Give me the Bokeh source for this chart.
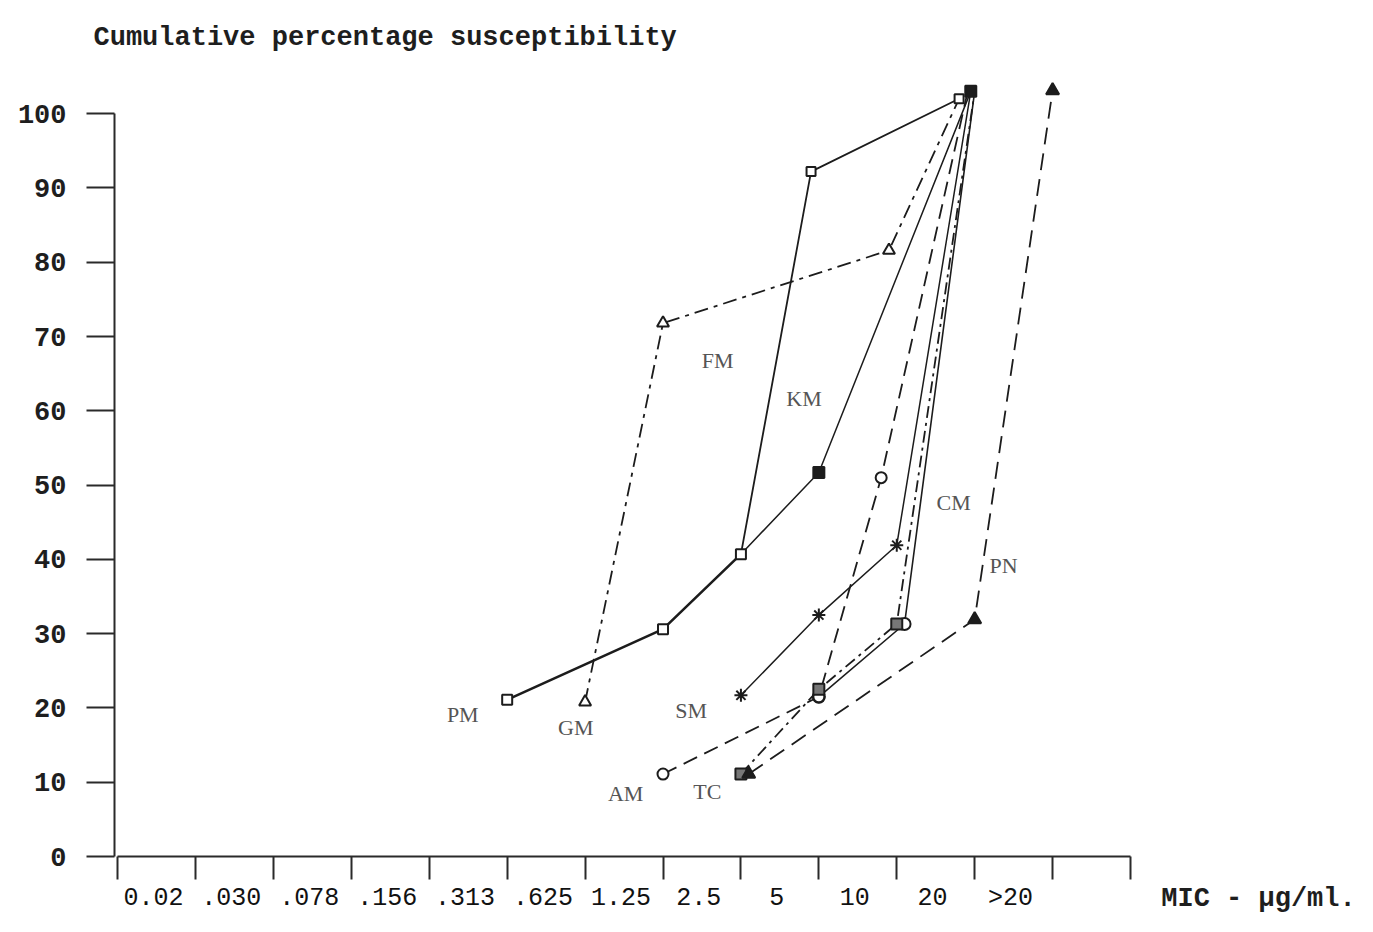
from bokeh.plotting import figure
from bokeh.layouts import row
from bokeh.models import Range1d, FixedTicker
from bokeh.core.properties import value
from bokeh.embed import file_html
from bokeh.resources import INLINE

# ---------------- data ----------------
mic_labels = ["0.02", ".030", ".078", ".156", ".313", ".625", "1.25", "2.5", "5", "10", "20", ">20"]
y_ticks = [0, 10, 20, 30, 40, 50, 60, 70, 80, 90, 100]
x_unit = "MIC - \u00b5g/ml."

# x = position on the MIC scale (tick index), y = cumulative % susceptibility
pm_x = [5, 7, 8]
pm_y = [21.1, 30.6, 40.7]
fm_x = [8, 8.9, 10.8]
fm_y = [40.7, 92.2, 102.0]
km_x = [8, 9, 10.95]
km_y = [40.7, 51.7, 103.0]
gm_x = [6, 7, 9.9, 10.8]
gm_y = [20.8, 71.8, 81.6, 102.0]
sm_x = [8, 9, 10, 10.95]
sm_y = [21.7, 32.5, 41.9, 103.0]
cm_x = [9, 10.1, 11.0]
cm_y = [21.5, 31.3, 103.0]
am_x = [7, 9, 9.8, 10.9]
am_y = [11.1, 21.5, 51.0, 102.5]
tc_x = [8, 9, 10, 11.0]
tc_y = [11.1, 22.5, 31.3, 103.0]
pn_x = [8.1, 11, 12]
pn_y = [11.1, 31.9, 103.1]

label_names = ["PM", "FM", "KM", "GM", "SM", "AM", "TC", "CM", "PN"]
label_x = [4.43, 7.70, 8.81, 5.88, 7.36, 6.52, 7.57, 10.73, 11.37]
label_y = [19.1, 66.8, 61.7, 17.4, 19.6, 8.5, 8.7, 47.7, 39.2]

# ---------------- styles ----------------
INK = "#1c1c1c"
series = [
    (pm_x, pm_y, dict(dash="solid", lw=2.6, marker="square", fill="white", size=10, first=0, end="square", end_fill="white")),
    (fm_x, fm_y, dict(dash="solid", lw=1.8, marker="square", fill="white", size=9, first=1, end="square", end_fill="white")),
    (km_x, km_y, dict(dash="solid", lw=1.5, marker="square", fill=INK, size=11, first=1, end="square", end_fill=INK)),
    (gm_x, gm_y, dict(dash="14 6 4 6", lw=1.8, marker="triangle", fill="white", size=12, first=0, end=None, end_fill=None)),
    (sm_x, sm_y, dict(dash="solid", lw=1.5, marker="asterisk", fill=INK, size=13, first=0, end=None, end_fill=None)),
    (cm_x, cm_y, dict(dash="solid", lw=1.6, marker="circle", fill="white", size=12, first=0, end=None, end_fill=None)),
    (am_x, am_y, dict(dash="15 8", lw=1.8, marker="circle", fill="white", size=11, first=0, end=None, end_fill=None)),
    (tc_x, tc_y, dict(dash="12 5 3 5", lw=1.8, marker="square", fill="#777777", size=11, first=0, end=None, end_fill=None)),
    (pn_x, pn_y, dict(dash="17 9", lw=1.8, marker="triangle", fill=INK, size=13, first=0, end="triangle", end_fill=INK)),
]

H = 916
TOP = 76
TICK_OUT = 23
STANDOFF = 4
LABEL_FONT_SIZE = "25px"

p = figure(width=1138, height=H, output_backend="svg", toolbar_location=None,
           x_range=Range1d(-0.04, 13), y_range=Range1d(0, 105),
           min_border_left=114, min_border_right=8, min_border_top=TOP, min_border_bottom=54)
p.xgrid.visible = False
p.ygrid.visible = False
p.outline_line_color = None
p.background_fill_color = "white"
p.border_fill_color = "white"

# title
p.title.text = "Cumulative percentage susceptibility"
p.title.text_font = "Liberation Mono"
p.title.text_font_style = "bold"
p.title.text_font_size = "27px"
p.title.text_color = "#1e1e1e"
p.title.align = "left"
p.title.vertical_align = "top"
p.title.offset = -21
p.title.standoff = 44

# y axis
ya = p.yaxis[0]
ya.ticker = FixedTicker(ticks=y_ticks)
ya.bounds = (0, 100)
ya.axis_line_width = 2
ya.axis_line_color = "#2a2a2a"
ya.major_tick_line_width = 2
ya.major_tick_line_color = "#2a2a2a"
ya.major_tick_out = 28
ya.major_tick_in = 0
ya.minor_tick_line_color = None
ya.major_label_standoff = 20
ya.major_label_text_font = "Liberation Mono"
ya.major_label_text_font_style = "bold"
ya.major_label_text_font_size = "27px"
ya.major_label_text_color = "#1e1e1e"

# x axis: marks at the MIC positions, labels set just to the right of them
xa = p.xaxis[0]
label_pos = [i + 0.46 for i in range(len(mic_labels))]
xa.ticker = FixedTicker(ticks=label_pos, minor_ticks=list(range(len(mic_labels) + 2)))
xa.major_label_overrides = {pos: lab for pos, lab in zip(label_pos, mic_labels)}
xa.bounds = (0, 13)
xa.axis_line_width = 2
xa.axis_line_color = "#2a2a2a"
xa.major_tick_line_color = None
xa.major_tick_out = TICK_OUT
xa.major_tick_in = 0
xa.minor_tick_line_color = "#2a2a2a"
xa.minor_tick_line_width = 2
xa.minor_tick_out = TICK_OUT
xa.minor_tick_in = 0
xa.major_label_standoff = STANDOFF
xa.axis_label_standoff = 0
xa.major_label_text_font = "Liberation Mono"
xa.major_label_text_font_size = LABEL_FONT_SIZE
xa.major_label_text_color = "#111111"

# series
for xs, ys, st in series:
    p.line(xs, ys, line_color=INK, line_width=st["lw"], line_dash=st["dash"])
for xs, ys, st in series:
    f = st["first"]
    p.scatter(xs[f:-1], ys[f:-1], marker=st["marker"], size=st["size"],
              line_color=INK, line_width=2, fill_color=st["fill"])
    if st["end"]:
        p.scatter(xs[-1:], ys[-1:], marker=st["end"], size=st["size"],
                  line_color=INK, line_width=2, fill_color=st["end_fill"])

# series names
p.text(x=label_x, y=label_y, text=label_names, text_font=value("Liberation Serif"),
       text_font_size="22px", text_color="#555555", text_align="center", text_baseline="middle")

# narrow panel on the right: its bottom axis carries the unit, level with the tick labels
QW = 1357 - 1138
q = figure(width=QW, height=H, output_backend="svg", toolbar_location=None,
           x_range=Range1d(0, QW), y_range=Range1d(0, 105), y_axis_type=None,
           min_border_left=0, min_border_right=0, min_border_top=TOP, min_border_bottom=54)
q.xgrid.visible = False
q.ygrid.visible = False
q.outline_line_color = None
q.background_fill_color = "white"
q.border_fill_color = "white"
qa = q.xaxis[0]
qa.ticker = FixedTicker(ticks=[120])
qa.major_label_overrides = {120: x_unit}
qa.axis_line_color = None
qa.major_tick_line_color = None
qa.minor_tick_line_color = None
qa.major_tick_out = TICK_OUT
qa.major_tick_in = 0
qa.major_label_standoff = STANDOFF
qa.axis_label_standoff = 0
qa.major_label_text_font = "Liberation Mono"
qa.major_label_text_font_style = "bold"
qa.major_label_text_font_size = "27px"
qa.major_label_text_color = "#1e1e1e"

layout = row(p, q, spacing=0)
open("out.html", "w").write(file_html(layout, INLINE))
